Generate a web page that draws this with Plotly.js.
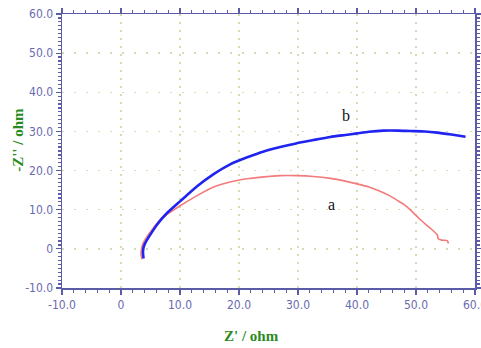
<!DOCTYPE html>
<html><head><meta charset="utf-8">
<script src="https://cdn.plot.ly/plotly-3.0.1.min.js"></script>
<style>html,body{margin:0;padding:0;background:#fff}#c{width:481px;height:348px}</style>
</head><body><div id="c"></div>
<script>
const tickVals = [-10, 0, 10, 20, 30, 40, 50, 60];
const tickText = ["-10.0", "0", "10.0", "20.0", "30.0", "40.0", "50.0", "60.0"];

const aX = [3.56, 3.4, 3.45, 3.7, 4.1, 5.25, 6.95, 9.5, 12.9, 15.7, 18.5, 21.4, 24.2, 27.0, 29.8, 32.6, 35.5, 38.0, 40.0, 42.0, 43.9, 45.5, 46.8, 48.0, 49.0, 50.7, 52.4, 53.6, 53.8, 54.2, 54.7, 55.3, 55.5];
const aY = [-2.7, -1.6, -0.2, 1.2, 2.4, 4.9, 7.9, 10.5, 13.6, 15.8, 17.1, 17.9, 18.4, 18.7, 18.7, 18.5, 18.0, 17.3, 16.6, 15.8, 14.7, 13.6, 12.4, 11.3, 10.0, 7.5, 5.3, 3.6, 2.5, 2.3, 2.2, 2.1, 1.35];

const bX = [3.83, 3.75, 3.73, 3.85, 4.12, 4.97, 6.1, 7.8, 10.05, 12.9, 15.7, 18.5, 21.4, 24.2, 27.0, 29.8, 32.6, 35.5, 38.0, 40.0, 42.0, 44.5, 47.0, 49.0, 51.5, 53.6, 56.0, 58.4];
const bY = [-2.47, -1.5, -0.6, 0.5, 1.53, 3.64, 6.18, 9.16, 12.2, 16.0, 19.1, 21.6, 23.4, 24.9, 26.0, 27.0, 27.8, 28.6, 29.1, 29.5, 29.9, 30.2, 30.2, 30.1, 30.0, 29.7, 29.2, 28.65];

const labels = [{t: "a", x: 35.6, y: 11.3}, {t: "b", x: 38.2, y: 34.0}];

const axisColor = "#5b5ba8";
const tickFont = {family: "Liberation Sans Narrow, DejaVu Sans Condensed, Roboto Condensed, Liberation Sans, sans-serif", size: 12, color: "#6a6ab0"};
const titleFont = {family: "Liberation Serif, Times New Roman, serif", size: 15, color: "#2a8a22", weight: "bold"};

const axisBase = {
  range: [-10, 60], tickvals: tickVals, ticktext: tickText,
  showline: true, linecolor: axisColor, linewidth: 1.5, mirror: "allticks",
  ticks: "outside", ticklen: 5, tickcolor: axisColor, tickwidth: 1.2,
  showgrid: true, gridcolor: "#d2ddb2", gridwidth: 1.5,
  zeroline: false, tickfont: tickFont, fixedrange: true, ticklabeloverflow: "allow"
};

const data = [
  {x: aX, y: aY, mode: "lines", line: {color: "#f47b7b", width: 1.6, shape: "spline", smoothing: 0.5}, hoverinfo: "skip"},
  {x: bX, y: bY, mode: "lines", line: {color: "#1f24f0", width: 2.6, shape: "spline", smoothing: 0.5}, hoverinfo: "skip"}
];

const layout = {
  width: 481, height: 348,
  margin: {l: 62, r: 6, t: 14, b: 60},
  paper_bgcolor: "#fff", plot_bgcolor: "#fff",
  showlegend: false,
  xaxis: Object.assign({}, axisBase, {griddash: "2px,6px", minor: {dtick: 2, ticks: "outside", ticklen: 3, tickcolor: axisColor, showgrid: false}}),
  yaxis: Object.assign({}, axisBase, {griddash: "2px,10px", minor: {dtick: 1, ticks: "outside", ticklen: 3, tickcolor: axisColor, showgrid: false}}),
  annotations: [
    {xref: "paper", yref: "paper", x: 0.46, y: -0.175, text: "Z' / ohm", showarrow: false, font: titleFont, xanchor: "center", yanchor: "middle"},
    {xref: "paper", yref: "paper", x: -0.107, y: 0.54, text: "-Z'' / ohm", showarrow: false, font: titleFont, textangle: -90, xanchor: "center", yanchor: "middle"}
  ].concat(labels.map(l => ({x: l.x, y: l.y, text: l.t, showarrow: false, font: {family: "Liberation Serif, Times New Roman, serif", size: 16, color: "#111"}})))
};

Plotly.newPlot("c", data, layout, {staticPlot: true});
</script></body></html>
